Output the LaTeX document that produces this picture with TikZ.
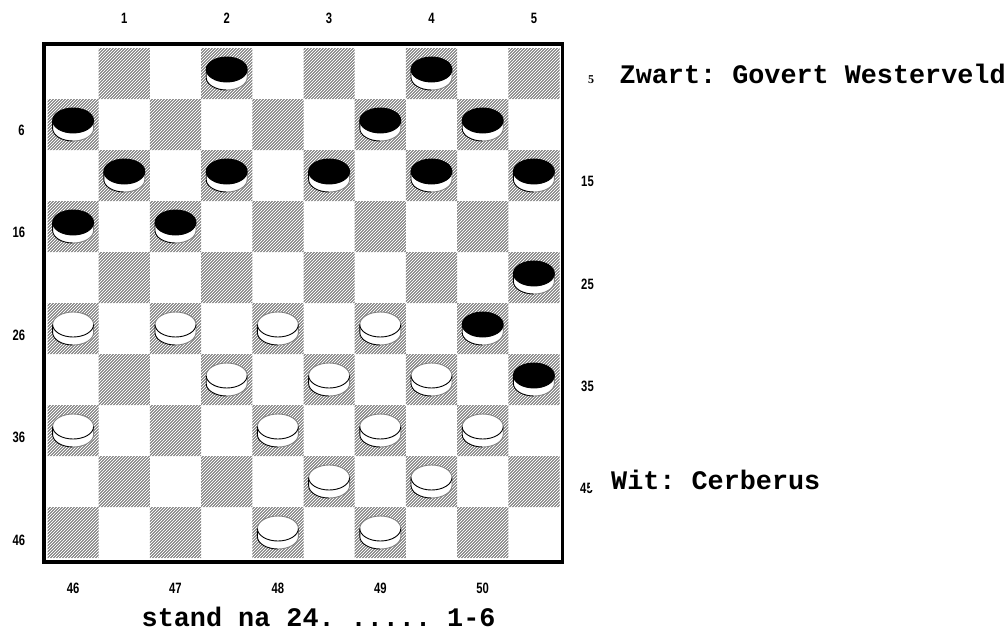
\documentclass[tikz,border=0pt]{standalone}
\usepackage{fontspec}
\newfontfamily\monof{Liberation Mono}
\newfontfamily\labf[FakeStretch=0.75]{Liberation Sans}
\newfontfamily\serf{Liberation Serif}
\frenchspacing
\tikzset{
  lab/.style={font=\labf\bfseries\fontsize{15}{15}\selectfont, inner sep=0pt},
  txt/.style={font=\monof\bfseries\frenchspacing\fontsize{26.8}{30}\selectfont, inner sep=0pt, anchor=base west},
  hatchline/.style={draw=black!58, line width=0.85pt},
  rimdark/.style={draw=black, line width=0.9pt},
  rimlight/.style={draw=black!50, line width=0.9pt},
  disc/.style={x radius=20.5pt, y radius=12.5pt},
  wpiece/.pic={
    \fill[white] (0,4) ellipse[disc];
    \fill[white] (-20.5,-4) rectangle (20.5,4);
    \draw[rimdark] (-20.5,-4) -- (-20.5,4) arc[start angle=180,end angle=270,disc];
    \draw[rimlight] (0,16.5) arc[start angle=270,end angle=360,disc] -- (20.5,-4);
    \fill[white] (0,-4) ellipse[disc];
    \draw[rimlight] (20.5,-4) arc[start angle=0,end angle=180,disc];
    \draw[rimdark] (-20.5,-4) arc[start angle=180,end angle=360,disc];
  },
  bpiece/.pic={
    \fill[white] (0,4) ellipse[disc];
    \fill[white] (-20.5,-4) rectangle (20.5,4);
    \draw[rimdark] (-20.5,-4) -- (-20.5,4) arc[start angle=180,end angle=270,disc];
    \draw[rimlight] (0,16.5) arc[start angle=270,end angle=360,disc] -- (20.5,-4);
    \fill[black] (0,-4) ellipse[disc];
    \draw[rimdark] (0,-4) ellipse[disc];
  }
}
\begin{document}
\begin{tikzpicture}[x=1pt,y=-1pt]
\useasboundingbox (0,0) rectangle (1007,630);
% hatched dark squares
\begin{scope}
  \clip \foreach \r in {1,...,10} {
    \foreach \k [evaluate=\k as \xa using {47.5+51.2*(2*\k-2+mod(\r,2))}] in {1,...,5} {
      (\xa,{48+51*(\r-1)}) rectangle ++(51.2,51)
    }
  };
  \foreach \k in {95.5,98.5,...,1117.5}
    \draw[hatchline] ({\k-558},558) -- ({\k-48},48);
\end{scope}
% pieces
\foreach \c/\r in {4/1,8/1,1/2,7/2,9/2,2/3,4/3,6/3,8/3,10/3,1/4,3/4,10/5,9/6,10/7}
  \pic at ({47.5+51.2*(\c-0.5)},{48+51*(\r-0.5)}) {bpiece};
\foreach \c/\r in {1/6,3/6,5/6,7/6,4/7,6/7,8/7,1/8,5/8,7/8,9/8,6/9,8/9,5/10,7/10}
  \pic at ({47.5+51.2*(\c-0.5)},{48+51*(\r-0.5)}) {wpiece};
% border
\draw[line width=3.5pt] (44,44) rectangle (562.5,562);
% top labels
\node[lab] (t1) at (124.3,18.7) {1};
\node[lab] (t2) at (226.7,18.7) {2};
\node[lab] (t3) at (329.1,18.7) {3};
\node[lab] (t4) at (431.5,18.7) {4};
\node[lab] (t5) at (533.9,18.7) {5};
% left labels
\node[lab] (l6) at (21.5,130) {6};
\node[lab] (l16) at (19,232.7) {16};
\node[lab] (l26) at (19,335) {26};
\node[lab] (l36) at (19,437.5) {36};
\node[lab] (l46) at (19,540) {46};
% bottom labels
\node[lab] (b46) at (73.1,588) {46};
\node[lab] (b47) at (175.5,588) {47};
\node[lab] (b48) at (277.9,588) {48};
\node[lab] (b49) at (380.3,588) {49};
\node[lab] (b50) at (482.7,588) {50};
% right labels
\node[font=\serf\bfseries\fontsize{12}{12}\selectfont, inner sep=0pt] (r5) at (591,80) {5};
\node[lab] (r15) at (587.5,181.7) {15};
\node[lab] (r25) at (587.5,284) {25};
\node[lab] (r35) at (587.5,386) {35};
\node[lab] (r45) at (586.5,488) {45};
% texts
\node[txt] (zwart) at (619.5,83) {Zwart: Govert Westerveld};
\node[txt, fill=white] (wit) at (590,489.3) {\hspace*{21pt}Wit: Cerberus};
\node[txt] (stand) at (141.5,626) {stand na 24. ..... 1-6};
\end{tikzpicture}
\end{document}
